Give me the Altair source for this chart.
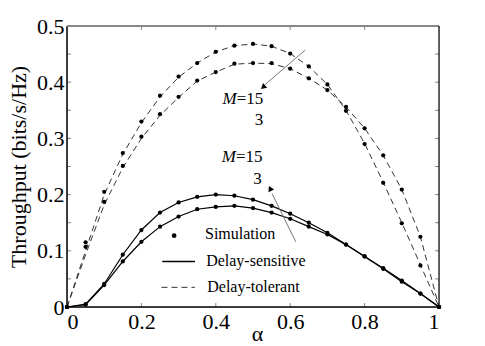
import altair as alt
import pandas as pd

# ---------------- data ----------------
alpha = [0.0, 0.05, 0.1, 0.15, 0.2, 0.25, 0.3, 0.35, 0.4, 0.45, 0.5,
         0.55, 0.6, 0.65, 0.7, 0.75, 0.8, 0.85, 0.9, 0.95, 1.0]

# Delay-tolerant (dashed), simulation points
tol_M15 = [0, 0.115, 0.205, 0.274, 0.330, 0.376, 0.410, 0.434, 0.454, 0.465, 0.468,
           0.464, 0.451, 0.428, 0.396, 0.349, 0.290, 0.221, 0.149, 0.074, 0]
tol_M3 = [0, 0.107, 0.187, 0.251, 0.303, 0.343, 0.374, 0.403, 0.418, 0.433, 0.434,
          0.434, 0.424, 0.407, 0.386, 0.356, 0.318, 0.270, 0.209, 0.125, 0]
# Delay-tolerant theory curves
tol_M15_theory = [0, 0.100, 0.200, 0.272, 0.328, 0.374, 0.409, 0.434, 0.454, 0.465, 0.468,
                  0.464, 0.451, 0.428, 0.396, 0.350, 0.291, 0.222, 0.150, 0.075, 0]
tol_M3_theory = [0, 0.093, 0.182, 0.248, 0.300, 0.341, 0.373, 0.402, 0.418, 0.432, 0.434,
                 0.433, 0.424, 0.407, 0.386, 0.356, 0.318, 0.270, 0.209, 0.125, 0]

# Delay-sensitive (solid)
sens_M15 = [0, 0.005, 0.041, 0.093, 0.137, 0.168, 0.186, 0.196, 0.200, 0.198, 0.191,
            0.180, 0.166, 0.150, 0.132, 0.111, 0.090, 0.069, 0.047, 0.024, 0]
sens_M3 = [0, 0.004, 0.039, 0.081, 0.116, 0.143, 0.161, 0.174, 0.178, 0.180, 0.176,
           0.168, 0.157, 0.143, 0.129, 0.111, 0.090, 0.068, 0.045, 0.024, 0]

x_ticks = [0, 0.2, 0.4, 0.6, 0.8, 1]
y_ticks = [0, 0.05, 0.1, 0.15, 0.2, 0.25, 0.3, 0.35, 0.4, 0.45, 0.5]
x_inner_ticks = [0.2, 0.4, 0.6, 0.8]
y_inner_ticks = [0.05, 0.1, 0.15, 0.2, 0.25, 0.3, 0.35, 0.4, 0.45]

legend_labels = ["Simulation", "Delay-sensitive", "Delay-tolerant"]

# ---------------- tables ----------------
W, H = 372, 281
FONT = "'Times New Roman', 'Liberation Serif', serif"


def long(series_dict):
    rows = []
    for name, vals in series_dict.items():
        for a, v in zip(alpha, vals):
            rows.append({"alpha": a, "value": v, "series": name})
    return pd.DataFrame(rows)


sim_df = long({"t15": tol_M15, "t3": tol_M3, "s15": sens_M15, "s3": sens_M3})
tol_df = long({"t15": tol_M15_theory, "t3": tol_M3_theory})
sens_df = long({"s15": sens_M15, "s3": sens_M3})

xs = alt.Scale(domain=[0, 1], nice=False, zero=False)
ys = alt.Scale(domain=[0, 0.5], nice=False, zero=False)

X = alt.X("alpha:Q", scale=xs, axis=alt.Axis(
    values=x_ticks, format="~g", ticks=False, domain=False, grid=False,
    labelFont=FONT, labelFontSize=22, labelColor="black", labelPadding=4,
    title="α", titleFont=FONT, titleFontSize=22, titleFontWeight="normal",
    titleColor="black", titleX=190, titleY=33, titleBaseline="alphabetic",
    titleAlign="center"))
Y = alt.Y("value:Q", scale=ys, axis=alt.Axis(
    values=y_ticks, format="~g", ticks=False, domain=False, grid=False,
    labelFont=FONT, labelFontSize=22, labelColor="black", labelPadding=3,
    title="Throughput (bits/s/Hz)", titleFont=FONT, titleFontSize=22,
    titleFontWeight="normal", titleColor="black", titleX=-42, titleY=H / 2,
    titleBaseline="alphabetic", titleAlign="center", titleAngle=270))

dashed = alt.Chart(tol_df).mark_line(
    color="#333333", strokeWidth=1, strokeDash=[6, 4]).encode(
    x=X, y=Y, detail="series:N")
solid = alt.Chart(sens_df).mark_line(
    color="black", strokeWidth=1.2).encode(
    x=alt.X("alpha:Q", scale=xs), y=alt.Y("value:Q", scale=ys), detail="series:N")
pts = alt.Chart(sim_df).mark_circle(
    color="black", size=18, opacity=1).encode(
    x=alt.X("alpha:Q", scale=xs), y=alt.Y("value:Q", scale=ys))

# ---------------- annotations ----------------
ann_M = pd.DataFrame({"x": [0.456, 0.454], "y": [0.370, 0.267]})
ann_15 = ann_M.copy()
ann_3 = pd.DataFrame({"x": [0.516, 0.512], "y": [0.333, 0.228]})
txt_M = alt.Chart(ann_M).mark_text(
    text="M", font=FONT, fontSize=17, fontStyle="italic", align="right",
    baseline="middle", color="black").encode(
    x=alt.X("x:Q", scale=xs), y=alt.Y("y:Q", scale=ys))
txt_15 = alt.Chart(ann_15).mark_text(
    text="=15", font=FONT, fontSize=17, align="left",
    baseline="middle", color="black").encode(
    x=alt.X("x:Q", scale=xs), y=alt.Y("y:Q", scale=ys))
txt_3 = alt.Chart(ann_3).mark_text(
    text="3", font=FONT, fontSize=17, align="center",
    baseline="middle", color="black").encode(
    x=alt.X("x:Q", scale=xs), y=alt.Y("y:Q", scale=ys))

arrows = pd.DataFrame({
    "x": [0.640, 0.615], "y": [0.457, 0.116],
    "x2": [0.533, 0.551], "y2": [0.396, 0.202],
    "hx": [0.527, 0.546], "hy": [0.391, 0.211],
    "ang": [228.6, 334.3]})
arrow_lines = alt.Chart(arrows).mark_rule(color="#777777", strokeWidth=1).encode(
    x=alt.X("x:Q", scale=xs), y=alt.Y("y:Q", scale=ys), x2="x2:Q", y2="y2:Q")
arrow_heads = alt.Chart(arrows).mark_point(
    shape="triangle-up", filled=True, color="black", size=40, opacity=1).encode(
    x=alt.X("hx:Q", scale=xs), y=alt.Y("hy:Q", scale=ys),
    angle=alt.Angle("ang:Q", scale=None))

# ---------------- legend ----------------
leg_text = pd.DataFrame({"label": legend_labels,
                         "x": [0.371, 0.374, 0.377],
                         "y": [0.130, 0.081, 0.036]})
leg_txt = alt.Chart(leg_text).mark_text(
    font=FONT, fontSize=16, align="left", baseline="middle", color="black").encode(
    x=alt.X("x:Q", scale=xs), y=alt.Y("y:Q", scale=ys), text="label:N")
leg_dot = alt.Chart(pd.DataFrame({"x": [0.288], "y": [0.127]})).mark_circle(
    color="black", size=22, opacity=1).encode(
    x=alt.X("x:Q", scale=xs), y=alt.Y("y:Q", scale=ys))
leg_solid = alt.Chart(pd.DataFrame({"x": [0.256], "x2": [0.344], "y": [0.081]})).mark_rule(
    color="black", strokeWidth=1.3).encode(
    x=alt.X("x:Q", scale=xs), x2="x2:Q", y=alt.Y("y:Q", scale=ys))
leg_dash = alt.Chart(pd.DataFrame({"x": [0.254], "x2": [0.344], "y": [0.035]})).mark_rule(
    color="#333333", strokeWidth=1, strokeDash=[6, 4]).encode(
    x=alt.X("x:Q", scale=xs), x2="x2:Q", y=alt.Y("y:Q", scale=ys))

# ---------------- frame & inward ticks ----------------
one = pd.DataFrame({"k": [0]})
frame_left = alt.Chart(one).mark_rule(color="black", strokeWidth=1.5).encode(
    x=alt.value(0), y=alt.value(0), y2=alt.value(H))
frame_bottom = alt.Chart(one).mark_rule(color="black", strokeWidth=1.5).encode(
    x=alt.value(0), x2=alt.value(W), y=alt.value(H))
frame_top = alt.Chart(one).mark_rule(color="#888888", strokeWidth=2).encode(
    x=alt.value(0), x2=alt.value(W), y=alt.value(0))
frame_right = alt.Chart(one).mark_rule(color="black", strokeWidth=1.2).encode(
    x=alt.value(W), y=alt.value(0), y2=alt.value(H))

xt = pd.DataFrame({"t": x_inner_ticks})
yt = pd.DataFrame({"t": y_inner_ticks})
tick_b = alt.Chart(xt).mark_rule(color="#888888").encode(
    x=alt.X("t:Q", scale=xs), y=alt.value(H), y2=alt.value(H - 4))
tick_t = alt.Chart(xt).mark_rule(color="#888888").encode(
    x=alt.X("t:Q", scale=xs), y=alt.value(0), y2=alt.value(4))
tick_l = alt.Chart(yt).mark_rule(color="#888888").encode(
    y=alt.Y("t:Q", scale=ys), x=alt.value(0), x2=alt.value(4))
tick_r = alt.Chart(yt).mark_rule(color="#888888").encode(
    y=alt.Y("t:Q", scale=ys), x=alt.value(W), x2=alt.value(W - 4))

chart = alt.layer(
    dashed, solid, pts, txt_M, txt_15, txt_3, arrow_lines, arrow_heads,
    leg_txt, leg_dot, leg_solid, leg_dash,
    tick_b, tick_t, tick_l, tick_r,
    frame_left, frame_bottom, frame_top, frame_right,
).properties(
    width=W, height=H,
    autosize=alt.AutoSizeParams(type="none"),
    padding={"left": 59, "top": 18, "right": 30, "bottom": 38},
).configure_view(stroke=None).configure(background="white")

chart.save("out.html", embed_options={"renderer": "svg", "actions": False})
